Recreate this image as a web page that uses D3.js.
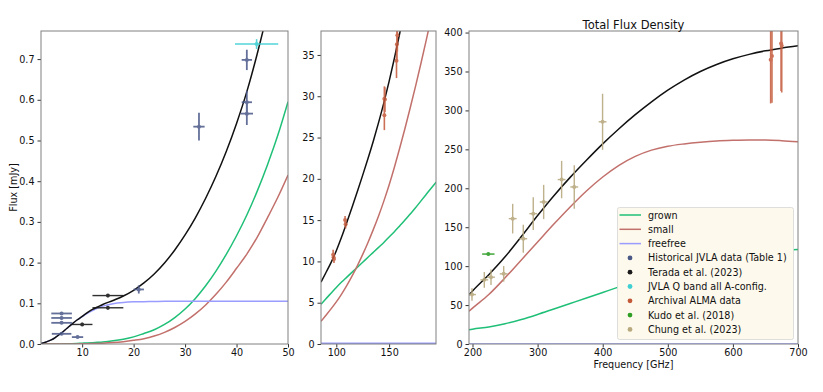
<!DOCTYPE html>
<html>
<head>
<meta charset="utf-8">
<script src="https://d3js.org/d3.v7.min.js"></script>
<style>
  body { margin: 0; background: #ffffff; }
  text { font-family: "DejaVu Sans", sans-serif; fill: #111; }
</style>
</head>
<body>
<script>
//model curves (flux in mJy, frequency in GHz)
var lowFreq = [2, 3, 4, 5, 6, 7, 8, 9, 10, 11, 12, 13, 14, 16, 18, 20, 22, 24, 26, 28, 30, 32, 34, 36, 38, 40, 42, 44, 46, 48, 50];
var lowTotal = [0.001, 0.005, 0.01, 0.018, 0.027, 0.038, 0.049, 0.059, 0.068, 0.077, 0.085, 0.091, 0.097, 0.107, 0.118, 0.132, 0.150, 0.172, 0.199, 0.231, 0.268, 0.310, 0.358, 0.412, 0.473, 0.542, 0.620, 0.712, 0.815, 0.93, 1.06];
var lowGrown = [0, 0, 0, 0, 0.0002, 0.0004, 0.0007, 0.0012, 0.002, 0.0026, 0.0033, 0.0041, 0.005, 0.0078, 0.0118, 0.0175, 0.026, 0.035, 0.048, 0.065, 0.086, 0.112, 0.143, 0.179, 0.220, 0.266, 0.317, 0.375, 0.44, 0.512, 0.595];
var lowSmall = [0, 0, 0, 0, 0, 0, 0, 0.0003, 0.0005, 0.0007, 0.001, 0.0015, 0.002, 0.0035, 0.0058, 0.009, 0.013, 0.0195, 0.0285, 0.0405, 0.0555, 0.074, 0.096, 0.122, 0.152, 0.186, 0.221, 0.262, 0.31, 0.36, 0.415];
var lowFreefree = [0.001, 0.005, 0.01, 0.018, 0.027, 0.038, 0.049, 0.059, 0.067, 0.075, 0.082, 0.088, 0.093, 0.099, 0.102, 0.1035, 0.104, 0.1045, 0.105, 0.105, 0.105, 0.105, 0.105, 0.105, 0.105, 0.105, 0.105, 0.105, 0.105, 0.105, 0.105];

var midFreq = [85.5, 90, 95, 100, 105, 110, 115, 120, 125, 130, 135, 140, 145, 150, 155, 160, 165, 170, 175, 180, 185, 190, 194.5];
var midTotal = [7.5, 8.6, 9.85, 11.3, 12.95, 14.75, 16.6, 18.5, 20.45, 22.45, 24.55, 26.8, 29.2, 31.8, 34.6, 37.6, 40.8, 44.1, 47.5, 51, 54.6, 58.3, 61.7];
var midGrown = [4.8, 5.45, 6.15, 6.85, 7.5, 8.1, 8.7, 9.3, 9.9, 10.5, 11.1, 11.7, 12.3, 12.95, 13.6, 14.3, 15.0, 15.75, 16.5, 17.3, 18.1, 18.9, 19.6];
var midSmall = [2.74, 3.45, 4.25, 5.1, 6.05, 7.1, 8.25, 9.5, 10.85, 12.3, 13.85, 15.5, 17.3, 19.25, 21.4, 23.7, 26.1, 28.6, 31.2, 33.9, 36.7, 39.6, 42.3];
var midFreefree = [0.105, 0.105, 0.105, 0.105, 0.105, 0.105, 0.105, 0.105, 0.105, 0.105, 0.105, 0.105, 0.105, 0.105, 0.105, 0.105, 0.105, 0.105, 0.105, 0.105, 0.105, 0.105, 0.105];

var highFreq = [194.6, 200, 225, 250, 275, 300, 325, 350, 375, 400, 425, 450, 475, 500, 525, 550, 575, 600, 625, 650, 675, 700];
var highTotal = [63, 68, 89, 112, 138, 165, 190.5, 214, 236, 257, 276.5, 294.5, 311, 326, 339, 350, 359, 366.3, 372, 376.5, 380, 383];
var highGrown = [18.2, 19, 21.8, 26, 31.5, 38, 45, 52, 59, 66.2, 73.4, 80.4, 87, 93.2, 98.6, 103.6, 108, 112, 115.3, 118, 120, 121.5];
var highSmall = [42, 46, 63.5, 85, 108, 131, 154, 176, 196.5, 214.5, 229.5, 241, 249, 254, 257, 259.2, 260.8, 261.6, 262, 262, 261.2, 259.8];
var highFreefree = [0.105, 0.105, 0.105, 0.105, 0.105, 0.105, 0.105, 0.105, 0.105, 0.105, 0.105, 0.105, 0.105, 0.105, 0.105, 0.105, 0.105, 0.105, 0.105, 0.105, 0.105, 0.105];

//measurements: frequency, flux and their errors
var histFreq = [6, 6, 6, 6, 9.1, 21, 32.7, 42, 42, 42];
var histFlux = [0.075, 0.064, 0.052, 0.025, 0.017, 0.134, 0.534, 0.698, 0.594, 0.566];
var histFreqErr = [2, 2, 2, 1.9, 1.1, 1, 1.1, 1, 1, 1.2];
var histFluxErr = [0.003, 0.003, 0.003, 0.003, 0.002, 0.01, 0.034, 0.025, 0.028, 0.028];

var teradaFreq = [10, 15, 15];
var teradaFlux = [0.048, 0.119, 0.089];
var teradaFreqErr = [2, 3, 3];
var teradaFluxErr = [0.004, 0.004, 0.004];

var qbandFreq = [43.9];
var qbandFlux = [0.737];
var qbandFreqErr = [4.2];
var qbandFluxErr = [0.012];

var almaFreq = [97, 97.8, 97.4, 108.3, 108.8, 145.5, 145.5, 146, 157, 157.4, 157.8, 658, 660, 674, 675];
var almaFlux = [10.8, 10.3, 10.5, 15.0, 14.5, 29.7, 27.7, 29.6, 34.3, 36.3, 37.4, 365, 370, 386, 383];
var almaFreqErr = [1, 1, 1, 1, 1, 1, 1, 1, 1, 1, 1, 1, 1, 1, 1];
var almaFluxErr = [0.6, 0.5, 0.5, 0.5, 0.5, 1.5, 1.8, 1.5, 2.1, 2, 2, 56, 60, 61, 60];

var kudoFreq = [224.3];
var kudoFlux = [115.5];
var kudoFreqErr = [9.5];
var kudoFluxErr = [1.5];

var chungFreq = [199.2, 218.1, 228.4, 247.9, 261.7, 278, 293.3, 309.3, 336.9, 356.3, 399.8];
var chungFlux = [63.5, 82.4, 85.8, 90.1, 161, 135.2, 167.4, 182.4, 211.2, 201.7, 285.4];
var chungFreqErr = [6, 6, 6, 6, 6, 6, 6, 6, 6, 6, 6];
var chungFluxErr = [8, 10, 10, 10, 19, 18, 21, 22, 24, 28, 36];

var legendLabels = ["grown", "small", "freefree", "Historical JVLA data (Table 1)", "Terada et al. (2023)",
  "JVLA Q band all A-config.", "Archival ALMA data", "Kudo et al. (2018)", "Chung et al. (2023)"];

window.onload = function(){

    var w = 823, h = 392;
    var fs = "9.6px";
    var col = {
        total: "#111111", grown: "#1fbf77", small: "#c2706b", freefree: "#9a9cff",
        hist: "#4a5888", terada: "#1a1a1a", qband: "#3fd0d4", alma: "#c4593a",
        kudo: "#2e9e25", chung: "#b8a97f"
    };

    var svg = d3.select("body")
        .append("svg")
        .attr("width", w)
        .attr("height", h);

    var zip = function(xs, ys){
        return xs.map(function(d, i){ return [d, ys[i]]; });
    };
    var pts = function(f, v, fe, ve){
        return f.map(function(d, i){ return {f: d, v: v[i], fe: fe[i], ve: ve[i]}; });
    };

    var curvesLow = [[lowGrown, col.grown], [lowSmall, col.small], [lowFreefree, col.freefree], [lowTotal, col.total]];
    var curvesMid = [[midGrown, col.grown], [midSmall, col.small], [midFreefree, col.freefree], [midTotal, col.total]];
    var curvesHigh = [[highGrown, col.grown], [highSmall, col.small], [highFreefree, col.freefree], [highTotal, col.total]];

    var sets = [
        {p: pts(histFreq, histFlux, histFreqErr, histFluxErr), c: col.hist, w: 1.8, op: 0.85},
        {p: pts(teradaFreq, teradaFlux, teradaFreqErr, teradaFluxErr), c: col.terada, w: 1.4, op: 0.9},
        {p: pts(qbandFreq, qbandFlux, qbandFreqErr, qbandFluxErr), c: col.qband, w: 1.6, op: 0.9},
        {p: pts(almaFreq, almaFlux, almaFreqErr, almaFluxErr), c: col.alma, w: 1.6, op: 0.85},
        {p: pts(kudoFreq, kudoFlux, kudoFreqErr, kudoFluxErr), c: col.kudo, w: 1.5, op: 0.9},
        {p: pts(chungFreq, chungFlux, chungFreqErr, chungFluxErr), c: col.chung, w: 1.4, op: 0.9}
    ];

    var panels = [
        {id: "low", left: 41, right: 288, xd: [2, 50], yd: [0, 0.769], xt: [10, 20, 30, 40, 50],
         yt: d3.range(0, 0.75, 0.1), yf: d3.format(".1f"), freq: lowFreq, curves: curvesLow},
        {id: "mid", left: 321, right: 436, xd: [85.5, 194.4], yd: [0, 37.9], xt: [100, 150],
         yt: d3.range(0, 36, 5), yf: d3.format("d"), freq: midFreq, curves: curvesMid},
        {id: "high", left: 469, right: 798, xd: [194.6, 700], yd: [0, 402], xt: [200, 300, 400, 500, 600, 700],
         yt: d3.range(0, 401, 50), yf: d3.format("d"), freq: highFreq, curves: curvesHigh}
    ];
    var top = 31, bottom = 344;

    panels.forEach(function(p){
        var x = d3.scaleLinear().domain(p.xd).range([p.left, p.right]);
        var y = d3.scaleLinear().domain(p.yd).range([bottom, top]);
        var g = svg.append("g").attr("class", "panel-" + p.id);

        g.append("clipPath").attr("id", "clip-" + p.id)
            .append("rect")
            .attr("x", p.left).attr("y", top)
            .attr("width", p.right - p.left).attr("height", bottom - top);

        var plot = g.append("g").attr("clip-path", "url(#clip-" + p.id + ")");

        var line = d3.line()
            .x(function(d){ return x(d[0]); })
            .y(function(d){ return y(d[1]); })
            .curve(d3.curveMonotoneX);

        p.curves.forEach(function(c){
            plot.append("path")
                .datum(zip(p.freq, c[0]))
                .attr("d", line)
                .attr("fill", "none")
                .attr("stroke", c[1])
                .attr("stroke-width", 1.5);
        });

        //error bars, only what falls into this panel's range
        sets.forEach(function(s){
            var inside = s.p.filter(function(d){ return d.f >= p.xd[0] && d.f <= p.xd[1]; });
            var eg = plot.append("g").attr("opacity", s.op);
            eg.selectAll("line.h").data(inside).enter().append("line")
                .attr("x1", function(d){ return x(d.f - d.fe); })
                .attr("x2", function(d){ return x(d.f + d.fe); })
                .attr("y1", function(d){ return y(d.v); })
                .attr("y2", function(d){ return y(d.v); })
                .attr("stroke", s.c).attr("stroke-width", s.w);
            eg.selectAll("line.v").data(inside).enter().append("line")
                .attr("x1", function(d){ return x(d.f); })
                .attr("x2", function(d){ return x(d.f); })
                .attr("y1", function(d){ return y(d.v - d.ve); })
                .attr("y2", function(d){ return y(d.v + d.ve); })
                .attr("stroke", s.c).attr("stroke-width", s.w);
            eg.selectAll("circle").data(inside).enter().append("circle")
                .attr("cx", function(d){ return x(d.f); })
                .attr("cy", function(d){ return y(d.v); })
                .attr("r", 2)
                .attr("fill", s.c);
        });

        //axes
        var xa = g.append("g")
            .attr("transform", "translate(0," + bottom + ")")
            .call(d3.axisBottom(x).tickValues(p.xt).tickSize(3.5).tickPadding(2));
        var ya = g.append("g")
            .attr("transform", "translate(" + p.left + ",0)")
            .call(d3.axisLeft(y).tickValues(p.yt).tickFormat(p.yf).tickSize(3.5).tickPadding(3));
        [xa, ya].forEach(function(a){
            a.select(".domain").remove();
            a.selectAll("line").attr("stroke", "#333");
            a.selectAll("text").attr("font-size", fs).attr("fill", "#111")
                .attr("font-family", "DejaVu Sans, sans-serif");
        });

        g.append("rect")
            .attr("x", p.left).attr("y", top)
            .attr("width", p.right - p.left).attr("height", bottom - top)
            .attr("fill", "none")
            .attr("stroke", "#808080")
            .attr("stroke-width", 1);
    });

    //labels
    svg.append("text")
        .attr("transform", "translate(17," + ((top + bottom) / 2) + ") rotate(-90)")
        .attr("text-anchor", "middle")
        .attr("font-size", fs)
        .text("Flux [mJy]");
    svg.append("text")
        .attr("x", 633.5).attr("y", 368)
        .attr("text-anchor", "middle")
        .attr("font-size", fs)
        .text("Frequency [GHz]");
    svg.append("text")
        .attr("x", 633.5).attr("y", 28.5)
        .attr("text-anchor", "middle")
        .attr("font-size", "11.5px")
        .text("Total Flux Density");

    //legend
    var lg = svg.append("g").attr("class", "legend");
    lg.append("rect")
        .attr("x", 617.5).attr("y", 207.5)
        .attr("width", 176).attr("height", 132)
        .attr("rx", 2)
        .attr("fill", "#fdf9ec")
        .attr("stroke", "#d6d6d6")
        .attr("stroke-width", 0.8);
    var keyColors = [col.grown, col.small, col.freefree, col.hist, col.terada, col.qband, col.alma, col.kudo, col.chung];
    var rows = lg.selectAll("g.row").data(legendLabels).enter().append("g")
        .attr("transform", function(d, i){ return "translate(0," + (215 + i * 14.3) + ")"; });
    rows.filter(function(d, i){ return i < 3; }).append("line")
        .attr("x1", 619.5).attr("x2", 641)
        .attr("stroke", function(d, i){ return keyColors[i]; })
        .attr("stroke-width", 1.5);
    rows.filter(function(d, i){ return i >= 3; }).append("circle")
        .attr("cx", 630).attr("r", 2.4)
        .attr("fill", function(d, i){ return keyColors[i + 3]; });
    rows.append("text")
        .attr("x", 648).attr("y", 3.5)
        .attr("font-size", fs)
        .text(function(d){ return d; });
};
</script>
</body>
</html>
